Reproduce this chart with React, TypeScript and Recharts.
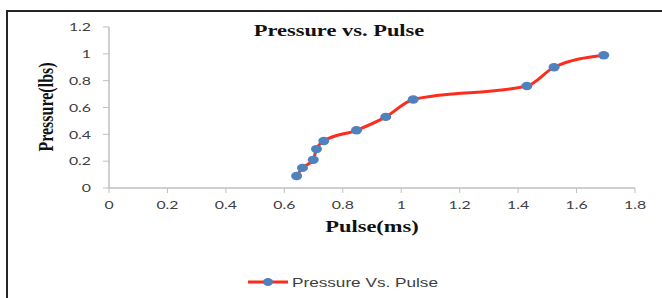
import { LineChart, Line, XAxis, YAxis } from "recharts";

const pulseMs = [0.642, 0.662, 0.699, 0.71, 0.735, 0.847, 0.947, 1.041, 1.43, 1.523, 1.693];
const pressureLbs = [0.09, 0.15, 0.21, 0.29, 0.35, 0.43, 0.53, 0.66, 0.76, 0.9, 0.99];
const xTicks = [0, 0.2, 0.4, 0.6, 0.8, 1, 1.2, 1.4, 1.6, 1.8];
const yTicks = [0, 0.2, 0.4, 0.6, 0.8, 1, 1.2];

const data = pulseMs.map((p, i) => ({ pulse: p, pressure: pressureLbs[i] }));

const RED = "#ff2b1c";
const BLUE = "#4f81bd";
const AXIS = "#bfbfbf";
const STRETCH = 1.32;

const tickFont = { fontFamily: "Lato, 'Liberation Sans', sans-serif", fontSize: 12, fill: "#404040" };

function XTick({ x, y, payload }: any) {
  return (
    <g transform={`translate(${x},${y}) scale(${STRETCH},1)`}>
      <text textAnchor="middle" dy="0.71em" {...tickFont}>
        {payload.value}
      </text>
    </g>
  );
}

function YTick({ x, y, payload }: any) {
  return (
    <g transform={`translate(${x},${y}) scale(${STRETCH},1)`}>
      <text textAnchor="end" dy="0.355em" {...tickFont}>
        {payload.value}
      </text>
    </g>
  );
}

function Dot({ cx, cy }: any) {
  if (cx == null || cy == null) return null;
  return <ellipse cx={cx} cy={cy} rx={5.5} ry={4.2} fill={BLUE} />;
}

const serifBold = {
  fontFamily: "'Liberation Serif', 'Times New Roman', serif",
  fontWeight: 700,
  color: "#111",
  whiteSpace: "nowrap" as const,
  position: "absolute" as const,
};

export default function App() {
  return (
    <div style={{ position: "fixed", left: 0, top: 0, width: 662, height: 298, background: "#fff", overflow: "hidden" }}>
      <div style={{ position: "absolute", left: 6, top: 10, width: 720, height: 400, border: "2px solid #262626", boxShadow: "1px 1px 1px #888" }} />
      <LineChart width={662} height={298} data={data} margin={{ top: 27, right: 27, bottom: 80, left: 0 }}>
        <XAxis
          dataKey="pulse"
          type="number"
          domain={[0, 1.8]}
          ticks={xTicks}
          tick={<XTick />}
          tickSize={5}
          tickMargin={7}
          height={30}
          stroke={AXIS}
          tickLine={{ stroke: AXIS }}
          axisLine={{ stroke: AXIS, strokeWidth: 1.5 }}
        />
        <YAxis
          type="number"
          domain={[0, 1.2]}
          ticks={yTicks}
          tick={<YTick />}
          tickSize={6}
          tickMargin={12}
          width={109}
          stroke={AXIS}
          tickLine={{ stroke: AXIS }}
          axisLine={{ stroke: AXIS, strokeWidth: 1.5 }}
        />
        <Line
          dataKey="pressure"
          type="monotone"
          stroke={RED}
          strokeWidth={3}
          dot={<Dot />}
          activeDot={false}
          isAnimationActive={false}
        />
      </LineChart>
      <div style={{ ...serifBold, left: 339, top: 31, fontSize: 17, transform: `translate(-50%,-50%) scaleX(${STRETCH})` }}>
        Pressure vs. Pulse
      </div>
      <div style={{ ...serifBold, left: 372, top: 227, fontSize: 17, transform: `translate(-50%,-50%) scaleX(${STRETCH})` }}>
        Pulse(ms)
      </div>
      <div style={{ ...serifBold, left: 46, top: 107, fontSize: 16, transform: `translate(-50%,-50%) scaleX(${STRETCH}) rotate(-90deg)` }}>
        Pressure(lbs)
      </div>
      <div style={{ position: "absolute", left: 248, top: 274, display: "flex", alignItems: "center" }}>
        <svg width={42} height={16}>
          <line x1={0} y1={8} x2={40} y2={8} stroke={RED} strokeWidth={3} />
          <ellipse cx={20} cy={8} rx={5} ry={4} fill={BLUE} />
        </svg>
        <span
          style={{
            fontFamily: "'Liberation Sans', Arial, sans-serif",
            fontSize: 13,
            color: "#404040",
            display: "inline-block",
            transformOrigin: "left center",
            transform: `scaleX(${STRETCH})`,
            marginLeft: 2,
          }}
        >
          Pressure Vs. Pulse
        </span>
      </div>
    </div>
  );
}
